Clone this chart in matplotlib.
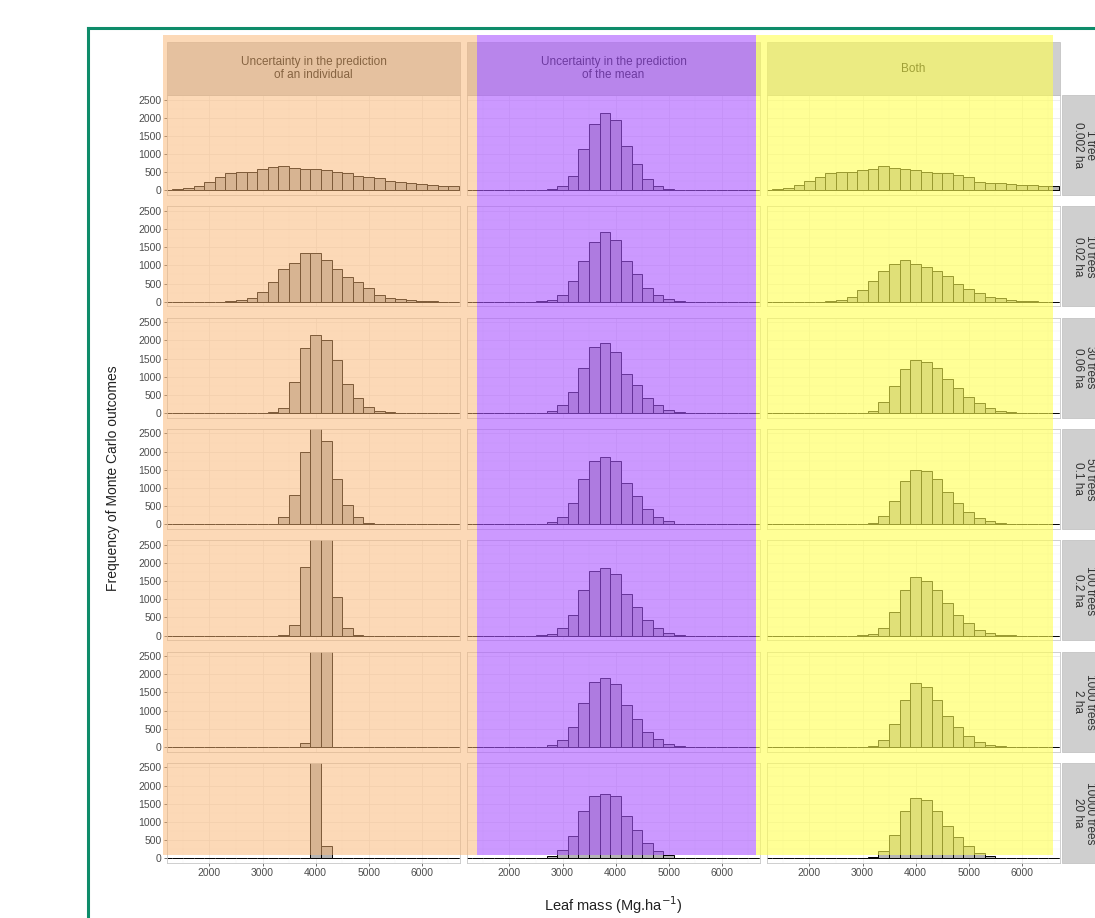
import numpy as np
import matplotlib
matplotlib.use("Agg")
import matplotlib.pyplot as plt
from matplotlib.patches import Rectangle
from matplotlib.lines import Line2D

plt.rcParams["font.family"] = ["Liberation Sans", "DejaVu Sans"]

W, H = 1095, 918

# bin centres (Mg/ha), bin width 200
bin_centers = np.arange(1200, 7000, 200)
bin_width = 200

col_titles = ["Uncertainty in the prediction\nof an individual",
              "Uncertainty in the prediction\nof the mean",
              "Both"]
row_titles = ["1 tree\n0.002 ha", "10 trees\n0.02 ha", "30 trees\n0.06 ha",
              "50 trees\n0.1 ha", "100 trees\n0.2 ha", "1000 trees\n2 ha",
              "10000 trees\n20 ha"]

# counts per bin, bins centred 1200, 1400, ..., 6800
individual = [
    [20, 35, 55, 125, 245, 380, 490, 500, 515, 580, 650, 670, 605, 580, 580,
     560, 515, 490, 405, 360, 335, 270, 235, 200, 180, 145, 125, 110, 90],
    [0, 0, 0, 0, 0, 0, 10, 40, 110, 280, 540, 900, 1065, 1340, 1340,
     1140, 900, 675, 540, 370, 185, 110, 75, 45, 25, 10, 0, 0, 0],
    [0, 0, 0, 0, 0, 0, 0, 0, 0, 0, 20, 150, 850, 1800, 2150,
     2000, 1450, 800, 420, 180, 60, 20, 0, 0, 0, 0, 0, 0, 0],
    [0, 0, 0, 0, 0, 0, 0, 0, 0, 0, 10, 200, 800, 2000, 2700,
     2300, 1250, 520, 200, 45, 10, 0, 0, 0, 0, 0, 0, 0, 0],
    [0, 0, 0, 0, 0, 0, 0, 0, 0, 0, 0, 10, 280, 1900, 3300,
     3250, 1050, 200, 20, 0, 0, 0, 0, 0, 0, 0, 0, 0, 0],
    [0, 0, 0, 0, 0, 0, 0, 0, 0, 0, 0, 0, 0, 100, 5000,
     4900, 0, 0, 0, 0, 0, 0, 0, 0, 0, 0, 0, 0, 0],
    [0, 0, 0, 0, 0, 0, 0, 0, 0, 0, 0, 0, 0, 0, 9670,
     330, 0, 0, 0, 0, 0, 0, 0, 0, 0, 0, 0, 0, 0],
]

mean_only = [
    [0, 0, 0, 0, 0, 0, 0, 5, 35, 135, 405, 1146, 1840, 2140, 1930,
     1210, 740, 316, 135, 45, 15, 0, 0, 0, 0, 0, 0, 0, 0],
    [0, 0, 0, 0, 0, 0, 0, 10, 45, 180, 565, 1120, 1640, 1925, 1710,
     1120, 760, 367, 180, 70, 15, 0, 0, 0, 0, 0, 0, 0, 0],
    [0, 0, 0, 0, 0, 0, 0, 10, 60, 215, 578, 1236, 1805, 1940, 1670,
     1073, 785, 424, 225, 90, 20, 0, 0, 0, 0, 0, 0, 0, 0],
    [0, 0, 0, 0, 0, 0, 0, 10, 55, 200, 600, 1250, 1750, 1850, 1750,
     1150, 780, 420, 210, 80, 20, 0, 0, 0, 0, 0, 0, 0, 0],
    [0, 0, 0, 0, 0, 0, 0, 10, 55, 200, 580, 1250, 1780, 1850, 1700,
     1150, 800, 430, 220, 85, 20, 0, 0, 0, 0, 0, 0, 0, 0],
    [0, 0, 0, 0, 0, 0, 0, 10, 50, 190, 560, 1220, 1800, 1900, 1720,
     1150, 780, 420, 210, 80, 20, 0, 0, 0, 0, 0, 0, 0, 0],
    [0, 0, 0, 0, 0, 0, 0, 10, 60, 230, 620, 1300, 1720, 1760, 1700,
     1150, 780, 420, 210, 80, 20, 0, 0, 0, 0, 0, 0, 0, 0],
]

both = [
    [15, 35, 60, 153, 270, 380, 487, 515, 515, 560, 578, 668, 605, 578, 560,
     515, 470, 487, 424, 380, 244, 217, 217, 180, 153, 153, 126, 110, 90],
    [0, 0, 0, 0, 0, 0, 10, 40, 120, 320, 580, 850, 1050, 1150, 1050,
     950, 850, 700, 500, 340, 230, 140, 90, 50, 25, 10, 0, 0, 0],
    [0, 0, 0, 0, 0, 0, 0, 0, 0, 15, 70, 300, 750, 1200, 1450,
     1400, 1250, 950, 700, 450, 270, 140, 70, 30, 10, 0, 0, 0, 0],
    [0, 0, 0, 0, 0, 0, 0, 0, 0, 10, 50, 230, 650, 1200, 1500,
     1480, 1250, 900, 600, 350, 180, 80, 30, 10, 0, 0, 0, 0, 0],
    [0, 0, 0, 0, 0, 0, 0, 0, 0, 10, 50, 220, 640, 1250, 1600,
     1500, 1250, 900, 580, 340, 160, 70, 25, 10, 0, 0, 0, 0, 0],
    [0, 0, 0, 0, 0, 0, 0, 0, 0, 10, 40, 200, 640, 1300, 1750,
     1650, 1300, 850, 550, 300, 130, 50, 20, 5, 0, 0, 0, 0, 0],
    [0, 0, 0, 0, 0, 0, 0, 0, 0, 10, 40, 200, 650, 1300, 1650,
     1600, 1300, 900, 580, 330, 150, 60, 20, 5, 0, 0, 0, 0, 0],
]

columns = [individual, mean_only, both]

fig = plt.figure(figsize=(W / 100, H / 100), dpi=100)
fig.patch.set_facecolor("white")


def px_rect(x0, y0, x1, y1):
    return [x0 / W, 1 - y1 / H, (x1 - x0) / W, (y1 - y0) / H]


col_x0 = [167, 467, 767]
panel_w = 293
row_y0 = [95 + k * 111.3 for k in range(7)]
panel_h = 100

for c, data in enumerate(columns):
    for r in range(7):
        ax = fig.add_axes(px_rect(col_x0[c], row_y0[r],
                                  col_x0[c] + panel_w, row_y0[r] + panel_h))
        ax.set_xlim(1200, 6720)
        ax.set_ylim(-125, 2625)
        ax.set_xticks([2000, 3000, 4000, 5000, 6000])
        ax.set_xticks([1500, 2500, 3500, 4500, 5500, 6500], minor=True)
        ax.set_yticks([0, 500, 1000, 1500, 2000, 2500])
        ax.set_yticks([250, 750, 1250, 1750, 2250], minor=True)
        ax.grid(which="major", color="#EBEBEB", lw=0.6)
        ax.grid(which="minor", color="#F3F3F3", lw=0.35)
        ax.set_axisbelow(True)
        ax.bar(bin_centers, data[r], width=bin_width, color="#B4B4B4",
               edgecolor="black", linewidth=0.7)
        for s in ax.spines.values():
            s.set_color("#C8C8C8")
            s.set_linewidth(0.6)
        ax.tick_params(which="minor", length=0)
        ax.tick_params(which="major", length=2.5, width=0.5, color="#333333",
                       labelsize=7.5, labelcolor="#4D4D4D", pad=1.5)
        if c != 0:
            ax.tick_params(axis="y", length=0, labelleft=False)
        if r != 6:
            ax.tick_params(axis="x", length=0, labelbottom=False)

# column strips
for c, title in enumerate(col_titles):
    fig.patches.append(Rectangle((col_x0[c] / W, 1 - 95 / H), panel_w / W, 53 / H,
                                 transform=fig.transFigure, facecolor="#CFCFCF",
                                 edgecolor="#BDBDBD", lw=0.5, zorder=1))
    fig.text((col_x0[c] + panel_w / 2) / W, 1 - 68.5 / H, title, ha="center",
             va="center", fontsize=8.5, color="#111111", linespacing=1.05, zorder=2)

# row strips (cut by the image edge)
for r, title in enumerate(row_titles):
    fig.patches.append(Rectangle((1062 / W, 1 - (row_y0[r] + panel_h) / H), 40 / W,
                                 panel_h / H, transform=fig.transFigure,
                                 facecolor="#CFCFCF", edgecolor="#BDBDBD", lw=0.5,
                                 zorder=1))
    fig.text(1084 / W, 1 - (row_y0[r] + panel_h / 2) / H, title, ha="center",
             va="center", rotation=-90, fontsize=8.5, color="#333333",
             linespacing=1.05, zorder=2)

# axis titles
fig.text(113 / W, 1 - 478 / H, "Frequency of Monte Carlo outcomes", rotation=90,
         ha="center", va="center", fontsize=10, color="#222222")
fig.text(613 / W, 1 - 905 / H, r"Leaf mass (Mg.ha$^{-1}$)", ha="center",
         va="center", fontsize=10.5, color="#222222")

# translucent highlight blocks over each column
overlays = [((163, 35, 477, 855), (251 / 255, 181 / 255, 113 / 255), 0.5),
            ((477, 35, 756, 855), (170 / 255, 85 / 255, 1.0), 0.6),
            ((756, 35, 1053, 855), (1.0, 1.0, 80 / 255), 0.6)]
for (x0, y0, x1, y1), col, a in overlays:
    fig.patches.append(Rectangle((x0 / W, 1 - y1 / H), (x1 - x0) / W, (y1 - y0) / H,
                                 transform=fig.transFigure, facecolor=col,
                                 edgecolor="none", alpha=a, zorder=10))

# green frame
fig.lines.append(Line2D([88 / W, 88 / W], [0, 1 - 28 / H], transform=fig.transFigure,
                        color="#0E8C6A", lw=2.2, zorder=11))
fig.lines.append(Line2D([88 / W, 1], [1 - 28 / H, 1 - 28 / H], transform=fig.transFigure,
                        color="#0E8C6A", lw=2.2, zorder=11))

fig.savefig("out.png", dpi=100)
